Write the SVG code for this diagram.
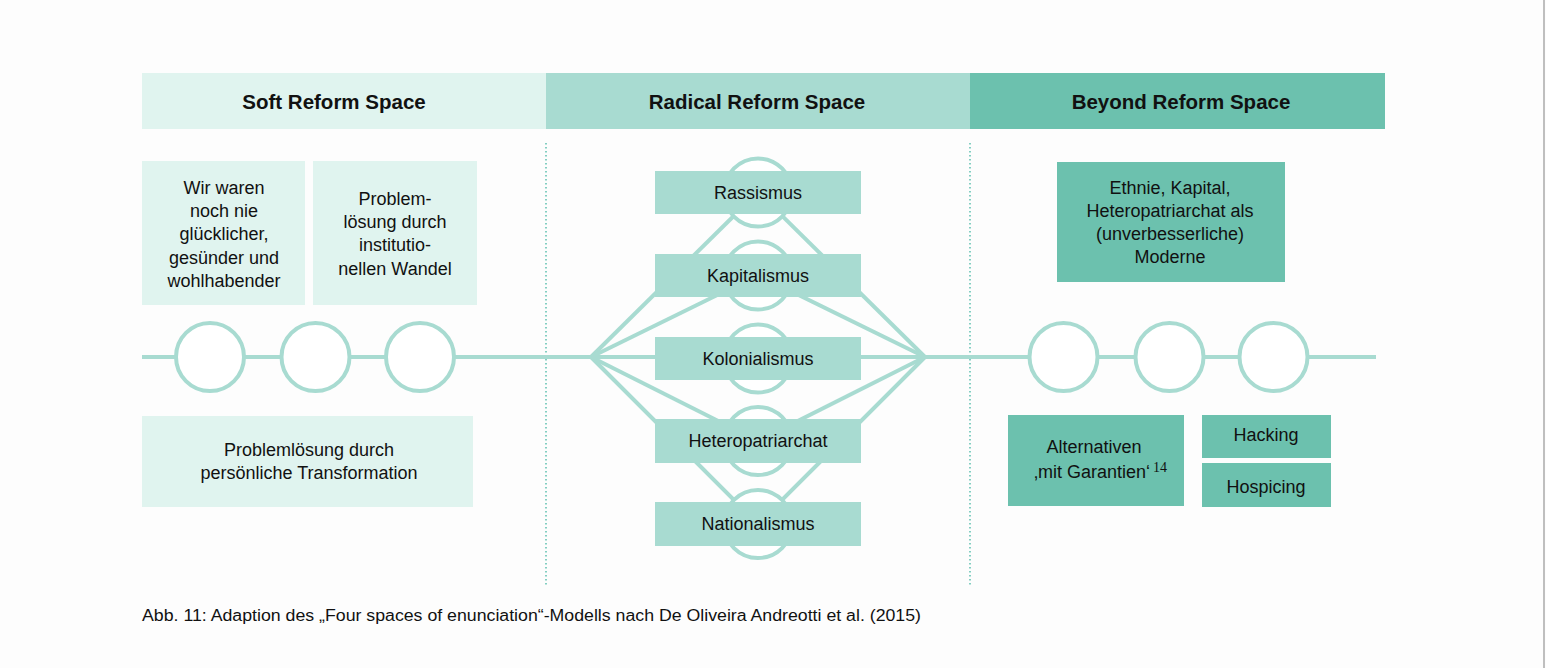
<svg xmlns="http://www.w3.org/2000/svg" width="1546" height="668" viewBox="0 0 1546 668">
<style>
.hd{font-family:"Liberation Sans",Arial,sans-serif;font-weight:bold;font-size:20.5px;fill:#111;text-anchor:middle}
.t{font-family:"Liberation Sans",Arial,sans-serif;font-size:18px;fill:#111;text-anchor:middle}
.ts{font-family:"Liberation Sans",Arial,sans-serif;font-size:18px;fill:#111}
.cap{font-family:"Liberation Sans",Arial,sans-serif;font-size:16px;fill:#111}
.sup{font-family:"Liberation Serif","Times New Roman",serif;font-size:14px;fill:#111}
.c1{fill:#e0f4ef}.c2{fill:#a8dbd1}.c3{fill:#6cc1ae}
.ln{stroke:#a8dbd1;stroke-width:4;fill:none}
.ring{stroke:#a8dbd1;stroke-width:4;fill:#fff}
.dot{stroke:#5bbfae;stroke-width:1.5;stroke-dasharray:1.5 2.5}
</style>
<rect width="1546" height="668" fill="#fdfdfd"/>
<line x1="1544" y1="0" x2="1544" y2="668" stroke="#aaa" stroke-width="1.5"/>
<g id="headers">
<rect class="c1" x="142" y="73" width="404" height="56"/>
<rect class="c2" x="546" y="73" width="424" height="56"/>
<rect class="c3" x="970" y="73" width="415" height="56"/>
<text class="hd" x="334" y="109">Soft Reform Space</text>
<text class="hd" x="757" y="109">Radical Reform Space</text>
<text class="hd" x="1181" y="109">Beyond Reform Space</text>
</g>
<g id="dividers">
<line class="dot" x1="546" y1="143" x2="546" y2="586"/>
<line class="dot" x1="970" y1="143" x2="970" y2="586"/>
</g>
<g id="connectors">
<line class="ln" x1="142" y1="357" x2="1376" y2="357"/>
<line class="ln" x1="591" y1="357" x2="758" y2="192"/>
<line class="ln" x1="591" y1="357" x2="758" y2="275"/>
<line class="ln" x1="591" y1="357" x2="758" y2="441"/>
<line class="ln" x1="591" y1="357" x2="758" y2="524"/>
<line class="ln" x1="925" y1="357" x2="758" y2="192"/>
<line class="ln" x1="925" y1="357" x2="758" y2="275"/>
<line class="ln" x1="925" y1="357" x2="758" y2="441"/>
<line class="ln" x1="925" y1="357" x2="758" y2="524"/>
</g>
<g id="soft-circles">
<circle class="ring" cx="210" cy="357" r="34"/>
<circle class="ring" cx="315.5" cy="357" r="34"/>
<circle class="ring" cx="420" cy="357" r="34"/>
</g>
<g id="beyond-circles">
<circle class="ring" cx="1063.5" cy="357" r="34"/>
<circle class="ring" cx="1169.5" cy="357" r="34"/>
<circle class="ring" cx="1273.5" cy="357" r="34"/>
</g>
<g id="soft-1">
<rect class="c1" x="142" y="161" width="163" height="144"/>
<text class="t" x="224" y="194">Wir waren</text>
<text class="t" x="224" y="217">noch nie</text>
<text class="t" x="224" y="240">glücklicher,</text>
<text class="t" x="224" y="264">gesünder und</text>
<text class="t" x="224" y="287">wohlhabender</text>
</g>
<g id="soft-2">
<rect class="c1" x="313" y="161" width="164" height="144"/>
<text class="t" x="395" y="205">Problem-</text>
<text class="t" x="395" y="228">lösung durch</text>
<text class="t" x="395" y="251">institutio-</text>
<text class="t" x="395" y="275">nellen Wandel</text>
</g>
<g id="soft-3">
<rect class="c1" x="142" y="416" width="331" height="91"/>
<text class="t" x="309" y="456">Problemlösung durch</text>
<text class="t" x="309" y="479">persönliche Transformation</text>
</g>
<g id="rassismus">
<circle class="ring" cx="758" cy="192.5" r="34"/>
<rect class="c2" x="655" y="171" width="206" height="43"/>
<text class="t" x="758" y="198.5">Rassismus</text>
</g>
<g id="kapitalismus">
<circle class="ring" cx="758" cy="275.5" r="34"/>
<rect class="c2" x="655" y="254" width="206" height="43"/>
<text class="t" x="758" y="281.5">Kapitalismus</text>
</g>
<g id="kolonialismus">
<circle class="ring" cx="758" cy="358.5" r="34"/>
<rect class="c2" x="655" y="337" width="206" height="43"/>
<text class="t" x="758" y="364.5">Kolonialismus</text>
</g>
<g id="heteropatriarchat">
<circle class="ring" cx="758" cy="441" r="34"/>
<rect class="c2" x="655" y="419" width="206" height="44"/>
<text class="t" x="758" y="447">Heteropatriarchat</text>
</g>
<g id="nationalismus">
<circle class="ring" cx="758" cy="524" r="34"/>
<rect class="c2" x="655" y="502" width="206" height="44"/>
<text class="t" x="758" y="530">Nationalismus</text>
</g>
<g id="beyond-1">
<rect class="c3" x="1057" y="162" width="228" height="120"/>
<text class="t" x="1170" y="194">Ethnie, Kapital,</text>
<text class="t" x="1170" y="217">Heteropatriarchat als</text>
<text class="t" x="1170" y="240">(unverbesserliche)</text>
<text class="t" x="1170" y="263">Moderne</text>
</g>
<g id="beyond-2">
<rect class="c3" x="1008" y="415" width="176" height="91"/>
<text class="t" x="1094" y="453">Alternativen</text>
<text class="ts" x="1034" y="478">‚mit Garantien‘<tspan class="sup" dx="3" dy="-6">14</tspan></text>
</g>
<g id="hacking">
<rect class="c3" x="1202" y="415" width="129" height="43"/>
<text class="t" x="1266" y="441">Hacking</text>
</g>
<g id="hospicing">
<rect class="c3" x="1202" y="463" width="129" height="44"/>
<text class="t" x="1266" y="493">Hospicing</text>
</g>
<text class="cap" x="142" y="621" textLength="779" lengthAdjust="spacingAndGlyphs">Abb. 11: Adaption des „Four spaces of enunciation“-Modells nach De Oliveira Andreotti et al. (2015)</text>
</svg>
